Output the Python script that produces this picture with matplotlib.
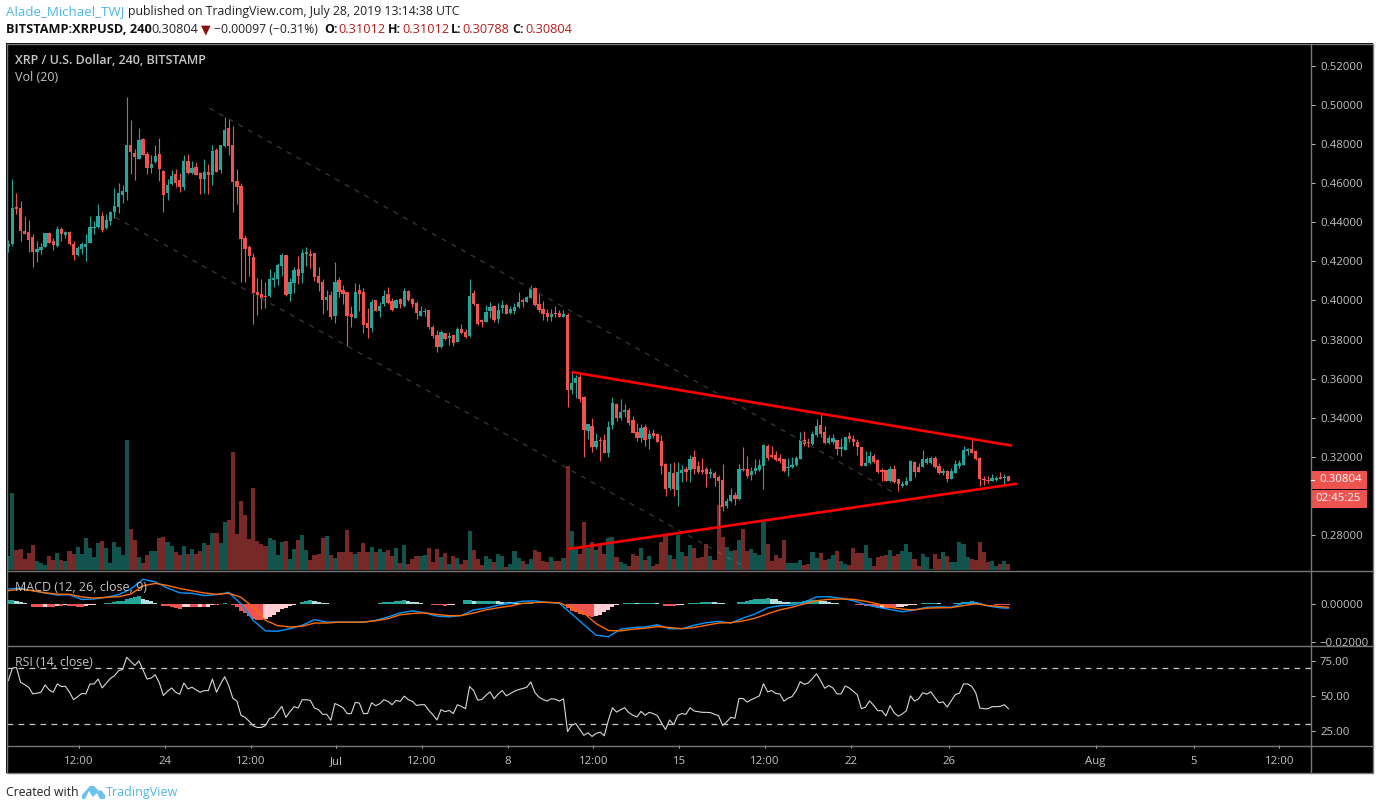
#!/usr/bin/env python3
"""XRP / USD 4h candles with volume, MACD and RSI panes, dark TradingView look."""

import pandas as pd
import matplotlib
matplotlib.use('Agg')
import matplotlib.pyplot as plt
from matplotlib.patches import Rectangle, Polygon

plt.rcParams['font.family'] = ['Open Sans', 'DejaVu Sans']

W, H = 1380, 810

# candles, one 4h bar each, first bar Jun 17 16:00
opens = [
    .4274,.4288,.4477,.4472,.4354,.4349,.4324,.4247,.4257,.4272,
    .4344,.4303,.4278,.4364,.4334,.4349,.4288,.4232,.4262,.4272,
    .4293,.4370,.4375,.4431,.4370,.4405,.4451,.4477,.4538,.4554,
    .4794,.4753,.4722,.4825,.4748,.4676,.4707,.4748,.4661,.4548,
    .4594,.4646,.4615,.4579,.4712,.4651,.4681,.4651,.4620,.4656,
    .4640,.4768,.4666,.4789,.4881,.4794,.4610,.4584,.4318,.4272,
    .4221,.4043,.4033,.4023,.4023,.4105,.4110,.4176,.4232,.4033,
    .4089,.4161,.4140,.4237,.4237,.4242,.4125,.4094,.4002,.4028,
    .3921,.4105,.4053,.4043,.3931,.3910,.4053,.4043,.3885,.3859,
    .4002,.3946,.3982,.4033,.3997,.3961,.4007,.3972,.4048,.4007,
    .3987,.3921,.3941,.3951,.3864,.3824,.3762,.3834,.3808,.3824,
    .3788,.3854,.3839,.3818,.4038,.3982,.3900,.3890,.3946,.3972,
    .3905,.3961,.3977,.3936,.3946,.3967,.4002,.3992,.4013,.4064,
    .3982,.3956,.3936,.3916,.3936,.3936,.3916,.3926,.3543,.3578,
    .3609,.3507,.3333,.3359,.3252,.3287,.3287,.3221,.3364,.3471,
    .3400,.3430,.3441,.3389,.3328,.3297,.3354,.3292,.3323,.3318,
    .3282,.3165,.3042,.3119,.3032,.3119,.3139,.3134,.3200,.3154,
    .3134,.3139,.3114,.3119,.3098,.3083,.2950,.2976,.3006,.2986,
    .3139,.3139,.3108,.3128,.3133,.3154,.3256,.3210,.3210,.3194,
    .3189,.3143,.3149,.3159,.3189,.3286,.3276,.3266,.3312,.3363,
    .3327,.3271,.3276,.3286,.3240,.3235,.3307,.3292,.3276,.3251,
    .3154,.3169,.3205,.3184,.3133,.3133,.3077,.3138,.3087,.3051,
    .3057,.3077,.3174,.3149,.3149,.3169,.3169,.3194,.3154,.3118,
    .3128,.3087,.3118,.3154,.3159,.3230,.3240,.3230,.3194,.3087,
    .3082,.3077,.3082,.3097,.3092,.3101,
]
closes = [
    .4288,.4472,.4467,.4354,.4339,.4308,.4247,.4262,.4272,.4344,
    .4293,.4283,.4364,.4339,.4349,.4288,.4232,.4267,.4288,.4288,
    .4375,.4375,.4431,.4359,.4410,.4451,.4482,.4548,.4559,.4794,
    .4758,.4732,.4819,.4743,.4676,.4697,.4738,.4671,.4538,.4589,
    .4635,.4600,.4579,.4712,.4651,.4676,.4640,.4620,.4656,.4640,
    .4763,.4656,.4794,.4871,.4789,.4605,.4579,.4313,.4262,.4226,
    .4038,.4028,.4007,.4018,.4110,.4115,.4181,.4232,.4028,.4094,
    .4156,.4125,.4242,.4248,.4227,.4120,.4089,.4002,.4018,.3916,
    .4094,.4043,.4033,.3921,.3916,.4043,.4033,.3875,.3859,.3992,
    .3946,.3972,.4023,.3987,.3951,.4002,.3982,.4048,.4002,.3982,
    .3936,.3946,.3946,.3864,.3818,.3762,.3839,.3803,.3818,.3783,
    .3854,.3834,.3813,.4023,.3982,.3880,.3890,.3941,.3967,.3900,
    .3951,.3977,.3931,.3956,.3967,.3992,.3992,.4018,.4064,.3977,
    .3951,.3931,.3916,.3931,.3931,.3916,.3931,.3543,.3578,.3604,
    .3497,.3338,.3369,.3252,.3282,.3282,.3221,.3354,.3476,.3400,
    .3430,.3441,.3374,.3323,.3297,.3349,.3287,.3318,.3308,.3277,
    .3154,.3037,.3124,.3037,.3124,.3134,.3124,.3190,.3139,.3124,
    .3124,.3114,.3124,.3093,.3078,.2945,.2976,.3006,.2986,.3139,
    .3134,.3103,.3128,.3143,.3159,.3261,.3194,.3200,.3184,.3179,
    .3128,.3149,.3159,.3194,.3286,.3266,.3271,.3317,.3358,.3317,
    .3271,.3297,.3297,.3240,.3251,.3302,.3292,.3276,.3251,.3154,
    .3169,.3205,.3174,.3123,.3123,.3077,.3138,.3072,.3062,.3062,
    .3077,.3179,.3123,.3123,.3189,.3189,.3194,.3149,.3118,.3128,
    .3087,.3128,.3164,.3169,.3235,.3240,.3220,.3189,.3087,.3082,
    .3077,.3092,.3092,.3087,.3097,.3080,
]
highs = [
    .4308,.4620,.4548,.4508,.4431,.4410,.4339,.4303,.4293,.4344,
    .4349,.4318,.4380,.4375,.4354,.4354,.4303,.4278,.4298,.4339,
    .4431,.4405,.4492,.4451,.4441,.4456,.4574,.4600,.4589,.5039,
    .4922,.4773,.4881,.4830,.4758,.4743,.4794,.4830,.4666,.4620,
    .4666,.4671,.4651,.4743,.4748,.4712,.4707,.4656,.4722,.4697,
    .4794,.4779,.4794,.4937,.4927,.4891,.4671,.4600,.4334,.4283,
    .4242,.4115,.4110,.4094,.4161,.4145,.4191,.4242,.4232,.4115,
    .4171,.4227,.4263,.4273,.4263,.4242,.4171,.4110,.4053,.4048,
    .4197,.4120,.4079,.4043,.3972,.4089,.4084,.4064,.3961,.4007,
    .4002,.3992,.4053,.4069,.4013,.4007,.4013,.4064,.4053,.4013,
    .3997,.3972,.3961,.3951,.3875,.3849,.3849,.3834,.3839,.3824,
    .3864,.3880,.3854,.4110,.4053,.3987,.3905,.3977,.3992,.3977,
    .3987,.4002,.3982,.3972,.3987,.4043,.4013,.4023,.4079,.4069,
    .4033,.3997,.3956,.3956,.3972,.3951,.3951,.3936,.3640,.3619,
    .3624,.3512,.3369,.3400,.3323,.3303,.3318,.3384,.3507,.3476,
    .3497,.3471,.3451,.3410,.3374,.3369,.3369,.3338,.3343,.3323,
    .3313,.3170,.3170,.3175,.3175,.3160,.3154,.3211,.3236,.3180,
    .3195,.3149,.3144,.3129,.3108,.3165,.2991,.3042,.3022,.3165,
    .3252,.3206,.3149,.3189,.3189,.3266,.3266,.3256,.3230,.3215,
    .3189,.3194,.3200,.3205,.3327,.3332,.3297,.3332,.3394,.3424,
    .3358,.3312,.3317,.3286,.3297,.3302,.3327,.3312,.3292,.3251,
    .3230,.3230,.3215,.3189,.3143,.3133,.3154,.3159,.3087,.3077,
    .3097,.3184,.3179,.3169,.3235,.3200,.3205,.3205,.3169,.3143,
    .3133,.3143,.3184,.3184,.3256,.3246,.3286,.3235,.3200,.3103,
    .3103,.3113,.3103,.3123,.3113,.3101,
]
lows = [
    .4247,.4278,.4441,.4303,.4339,.4247,.4170,.4196,.4237,.4272,
    .4293,.4257,.4272,.4303,.4318,.4283,.4206,.4226,.4237,.4201,
    .4293,.4339,.4370,.4349,.4364,.4385,.4421,.4446,.4497,.4513,
    .4646,.4615,.4722,.4743,.4646,.4651,.4702,.4610,.4451,.4513,
    .4589,.4579,.4554,.4564,.4646,.4646,.4640,.4543,.4548,.4543,
    .4589,.4656,.4651,.4784,.4743,.4451,.4492,.4094,.4094,.4124,
    .3880,.3926,.3956,.3961,.4018,.4069,.4079,.4125,.4023,.3997,
    .4038,.4084,.4089,.4176,.4166,.4099,.4048,.3931,.3951,.3905,
    .3885,.4018,.3982,.3767,.3864,.3910,.3946,.3834,.3808,.3839,
    .3946,.3916,.3972,.3982,.3946,.3961,.3961,.3967,.3997,.3967,
    .3905,.3921,.3921,.3854,.3808,.3737,.3757,.3798,.3772,.3767,
    .3788,.3829,.3808,.3813,.3977,.3875,.3864,.3890,.3910,.3890,
    .3885,.3936,.3931,.3931,.3931,.3961,.3967,.3992,.4013,.3972,
    .3941,.3900,.3895,.3895,.3916,.3916,.3916,.3456,.3522,.3502,
    .3481,.3200,.3292,.3226,.3241,.3180,.3221,.3200,.3343,.3384,
    .3389,.3405,.3364,.3323,.3282,.3277,.3257,.3241,.3297,.3277,
    .3114,.3001,.3032,.3001,.2950,.3073,.3078,.3073,.3114,.3119,
    .3114,.3047,.3093,.3052,.2838,.2925,.2940,.2971,.2955,.2981,
    .3129,.3093,.3082,.3113,.3128,.3036,.3184,.3194,.3179,.3169,
    .3123,.3103,.3143,.3154,.3189,.3256,.3251,.3261,.3302,.3302,
    .3266,.3266,.3266,.3210,.3205,.3235,.3276,.3256,.3210,.3154,
    .3154,.3164,.3169,.3118,.3077,.3077,.3072,.3067,.3026,.3046,
    .3057,.3077,.3097,.3123,.3149,.3164,.3164,.3143,.3113,.3108,
    .3072,.3087,.3118,.3143,.3159,.3210,.3220,.3184,.3051,.3057,
    .3067,.3077,.3077,.3087,.3051,.3079,
]
volumes = [
    14,77,20,21,11,17,25,9,7,5,
    14,10,17,10,9,19,16,23,16,32,
    22,13,27,29,22,7,28,23,15,130,
    41,30,13,7,15,19,19,32,33,28,
    24,18,15,24,16,21,16,19,27,25,
    37,37,27,48,50,118,36,69,55,31,
    82,29,26,24,32,30,15,28,29,11,
    21,30,35,20,10,15,16,32,34,15,
    12,18,18,40,18,16,18,27,18,23,
    18,21,18,20,14,22,7,25,6,11,
    14,14,15,22,8,21,13,17,6,14,
    12,6,10,39,20,11,5,14,11,8,
    16,14,3,6,19,12,9,6,11,20,
    18,9,8,13,9,9,12,104,39,22,
    16,48,22,28,20,25,16,32,33,13,
    8,6,4,16,14,22,10,14,4,6,
    28,34,15,11,35,18,14,25,22,12,
    13,26,14,10,65,33,23,19,20,30,
    41,19,21,17,15,48,26,9,15,12,
    30,7,7,7,10,5,6,18,12,17,
    10,11,15,19,9,6,5,22,17,17,
    25,12,4,13,14,15,20,14,16,19,
    26,18,11,4,16,13,1,16,11,18,
    14,8,8,28,26,13,11,10,28,18,
    8,9,4,6,9,6,
]

# MACD lines, read every third bar
macd_bars = list(range(0, 246, 3)) + [245]
macd_line = [
    .0080,.0085,.0071,.0059,.0048,.0050,.0024,.0027,.0036,.0050,.0080,.0132,.0118,.0085,
    .0060,.0057,.0045,.0050,.0062,.0001,-.0087,-.0143,-.0145,-.0131,-.0113,-.0083,-.0096,-.0096,
    -.0096,-.0096,-.0087,-.0069,-.0047,-.0036,-.0047,-.0064,-.0068,-.0061,-.0031,-.0022,-.0006,.0004,
    .0015,.0017,.0008,.0004,-.0052,-.0110,-.0166,-.0174,-.0134,-.0125,-.0122,-.0110,-.0132,-.0131,
    -.0113,-.0099,-.0092,-.0101,-.0075,-.0052,-.0020,-.0008,-.0006,.0010,.0038,.0039,.0031,.0018,
    -.0003,-.0017,-.0029,-.0041,-.0031,-.0017,-.0015,-.0017,.0004,.0008,-.0010,-.0020,-.0022,
]
signal_line = [
    .0071,.0080,.0071,.0060,.0053,.0052,.0038,.0032,.0036,.0039,.0053,.0097,.0110,.0099,
    .0083,.0071,.0059,.0052,.0057,.0036,-.0017,-.0087,-.0115,-.0122,-.0118,-.0101,-.0101,-.0096,
    -.0097,-.0096,-.0089,-.0078,-.0057,-.0050,-.0047,-.0055,-.0062,-.0061,-.0048,-.0031,-.0020,-.0010,
    .0004,.0008,.0010,.0006,-.0020,-.0048,-.0104,-.0141,-.0143,-.0134,-.0129,-.0120,-.0125,-.0131,
    -.0125,-.0113,-.0101,-.0099,-.0090,-.0075,-.0052,-.0031,-.0017,.0001,.0018,.0025,.0027,.0025,
    .0015,.0001,-.0017,-.0027,-.0031,-.0022,-.0020,-.0019,-.0008,.0001,-.0008,-.0013,-.0017,
]
macd_hist = [
    .0019,.0019,.0018,.0011,.0005,0,-.0014,-.0016,-.0016,-.0014,
    -.0016,-.0016,-.0009,-.0009,-.0007,-.0009,-.0012,-.0016,-.0016,-.0011,
    -.0007,-.0004,0,0,.0004,.0004,.0009,.0014,.0016,.0028,
    .0033,.0035,.0042,.0028,.0021,.0016,.0007,0,-.0011,-.0012,
    -.0016,-.0021,-.0026,-.0018,-.0016,-.0016,-.0016,-.0014,-.0016,-.0014,
    -.0007,-.0007,0,.0004,.0002,-.0007,-.0018,-.0035,-.0049,-.0061,
    -.0081,-.0084,-.0084,-.0079,-.0070,-.0058,-.0044,-.0028,-.0019,-.0011,
    -.0004,0,.0009,.0018,.0023,.0014,.0011,.0007,.0004,0,
    -.0002,0,.0002,.0002,0,.0002,.0002,0,-.0002,0,
    .0002,.0004,.0009,.0012,.0012,.0014,.0016,.0019,.0016,.0012,
    .0009,.0005,.0002,0,-.0004,-.0007,-.0007,-.0009,-.0007,-.0005,
    -.0002,0,.0019,.0019,.0016,.0016,.0016,.0016,.0016,.0016,
    .0014,.0012,.0012,.0011,.0009,.0007,.0005,.0005,.0005,.0002,
    0,-.0002,-.0002,-.0002,-.0002,-.0002,-.0002,-.0021,-.0035,-.0042,
    -.0051,-.0056,-.0063,-.0067,-.0063,-.0056,-.0044,-.0032,-.0018,-.0005,
    0,.0007,.0007,.0007,.0005,.0005,.0007,.0007,.0007,.0004,
    .0002,-.0009,-.0009,-.0009,-.0005,-.0004,0,.0005,.0007,.0007,
    .0009,.0011,.0012,.0011,.0007,.0005,.0002,0,0,.0009,
    .0012,.0016,.0021,.0025,.0026,.0028,.0032,.0028,.0025,.0018,
    .0012,.0009,.0009,.0011,.0012,.0016,.0021,.0021,.0023,.0018,
    .0014,.0011,.0007,.0004,0,0,0,0,-.0005,-.0007,
    -.0011,-.0012,-.0018,-.0021,-.0019,-.0021,-.0021,-.0021,-.0018,-.0014,
    -.0011,-.0007,-.0004,0,.0004,.0004,.0005,.0005,.0004,.0002,
    0,0,.0004,.0005,.0009,.0011,.0014,.0011,.0005,0,
    0,-.0002,-.0004,-.0004,-.0004,-.0004,
]
rsi = [
    61.1,70.1,70.6,59.9,58.2,56.3,51.5,52,52.7,58,
    54.4,52.7,58.7,56.8,57,52.7,47.3,49.6,51.8,51.5,
    58.7,58.7,62.2,55.8,59.2,62.7,64.6,68.2,69.2,77.9,
    74.9,72,75.3,68.7,62.2,63,65.3,59.4,50.4,53.4,
    55.8,52.7,51.3,59.4,55.1,56.3,54.4,52.7,53.9,53.9,
    62.2,52.7,58.7,63.9,57.5,48.4,46.3,36.1,34.6,31.8,
    28.5,27.3,27.3,28.7,33.7,34.6,38.7,42.5,34.6,38.7,
    42.3,41.3,47.3,47.3,46.8,41.3,40.1,36.8,36.8,32.5,
    44.6,43.2,41.5,37.3,37.3,45.4,44.9,37.3,37.3,45.1,
    43,44.4,47.3,46.1,43.7,46.8,46.1,49.9,47.3,46.1,
    43.2,43.7,43.7,39.6,36.5,32.7,40.1,38.7,39.6,37.3,
    43.7,42.5,40.8,56.8,53.9,47,47.5,50.4,53,48,
    51.5,53.9,50.1,51.8,53.4,54.6,55.4,56.3,60.1,52.5,
    49.2,47.5,46.3,48,47.7,46.3,48,24.4,28.9,30.1,
    25.8,21.6,23.5,20.8,23,23.9,21.3,32.5,41.5,38.4,
    40.1,41.5,38,36.1,34.9,38.9,36.1,38.2,37.3,35.8,
    30.6,25.8,32.7,29.2,36.1,37.3,36.8,41.5,39.2,38.7,
    38.2,38.2,38,36.8,35.8,28.7,31.3,34.6,33.9,48.2,
    48.2,45.6,47.3,48.7,50.1,58.9,53,53.9,51.8,51.5,
    46.3,48.4,49.6,53.9,60.3,58.4,59.4,62.7,66,61,
    55.6,57.5,55.8,51.5,51.5,57.2,55.8,53.4,50.8,40.8,
    42,46.5,43.2,39.4,39.4,35.6,43,38,35.4,37,
    39.4,50.1,46.3,48,52.3,51.3,53,48.9,45.1,45.8,
    42,46.5,51.1,52,58.7,58.7,57,52.3,41.3,40.8,
    40.8,42.3,42.3,42.5,43.7,40.8,
]

# drawn lines: bar number / price pairs
triangle_top = ([138.0, 245.9], [.3634, .3258])
triangle_bottom = ([137.1, 247.1], [.2730, .3064])
channel_top = ([49.2, 216.7], [.4983, .3021])
channel_bottom = ([26.1, 180.5], [.4426, .2638])

price_ticks = [.28, .32, .34, .36, .38, .40, .42, .44, .46, .48, .50, .52]
macd_ticks = [0.0, -0.02]
rsi_ticks = [25, 50, 75]
time_ticks = ['2019-06-20 12:00', '2019-06-24', '2019-06-27 12:00', '2019-07-01',
              '2019-07-04 12:00', '2019-07-08', '2019-07-11 12:00', '2019-07-15',
              '2019-07-18 12:00', '2019-07-22', '2019-07-26', '2019-08-01',
              '2019-08-05', '2019-08-08 12:00']
time_labels = ['12:00', '24', '12:00', 'Jul', '12:00', '8', '12:00', '15',
               '12:00', '22', '26', 'Aug', '5', '12:00']

UP = '#26a69a'
DOWN = '#ef5350'
LABEL = '#c4c4c4'
FRAME = '#777777'
FIRST_BAR = pd.Timestamp('2019-06-17 16:00')
TICK_SHIFT = 0.35  # ticks sit a little right of the bars in the original
XLIM = (-0.32, 319.0)
LEFT, RIGHT = 7, 1310.5
AXIS_FONT = 8.2
HEAD_FONT = 8.85


def pane(fig, top, bottom, ylim):
    """Black axes placed by pixel rows."""
    ax = fig.add_axes([LEFT / W, 1 - bottom / H, (RIGHT - LEFT) / W, (bottom - top) / H])
    ax.set_facecolor('black')
    ax.set_xlim(*XLIM)
    ax.set_ylim(*ylim)
    for s in ax.spines.values():
        s.set_visible(False)
    ax.set_xticks([])
    ax.yaxis.tick_right()
    ax.tick_params(axis='y', colors=LABEL, length=3, width=0.7, pad=3.8, labelsize=AXIS_FONT)
    return ax


fig = plt.figure(figsize=(W / 100, H / 100), dpi=100, facecolor='white')
fig.add_artist(Rectangle((6 / W, 1 - 773 / H), 1367 / W, 730 / H, transform=fig.transFigure,
                         facecolor='black', edgecolor='none', zorder=-1))

bars = list(range(len(closes)))
up = [c >= o for o, c in zip(opens, closes)]
colors = [UP if u else DOWN for u in up]

# price pane: candles underneath, volume over them, red trendlines on top
ax_price = pane(fig, 44, 570, (.2623, .5310))
ax_price.vlines(bars, lows, highs, colors=colors, linewidth=0.8)
ax_price.bar(bars, [c - o for o, c in zip(opens, closes)], bottom=opens, width=0.8,
             color=colors, linewidth=0)
ax_price.plot(*channel_top, color='#333333', lw=1, dashes=(3.8, 4.2))
ax_price.plot(*channel_bottom, color='#333333', lw=1, dashes=(3.8, 4.2))
ax_price.set_yticks(price_ticks)
ax_price.set_yticklabels([f'{p:.5f}' for p in price_ticks])

ax_vol = fig.add_axes(ax_price.get_position(), sharex=ax_price, frameon=False)
ax_vol.set_ylim(0, 526)
ax_vol.bar(bars, volumes, width=1.0, color=colors, alpha=0.5, linewidth=0)
ax_vol.axis('off')

ax_lines = fig.add_axes(ax_price.get_position(), sharex=ax_price, frameon=False)
ax_lines.set_ylim(*ax_price.get_ylim())
ax_lines.plot(*triangle_top, color='#ff0000', lw=1.9, solid_capstyle='butt')
ax_lines.plot(*triangle_bottom, color='#ff0000', lw=1.9, solid_capstyle='butt')
ax_lines.axis('off')

# MACD pane
ax_macd = pane(fig, 571, 645, (-.0218, .0176))
hist_colors = []
for i, h in enumerate(macd_hist):
    prev = macd_hist[i - 1] if i else h
    if h >= 0:
        hist_colors.append(UP if h >= prev else '#b2dfdb')
    else:
        hist_colors.append(DOWN if h <= prev else '#ffcdd2')
ax_macd.bar(bars, macd_hist, width=1.0, color=hist_colors, linewidth=0)
ax_macd.plot(macd_bars, macd_line, color='#0496ff', lw=1)
ax_macd.plot(macd_bars, signal_line, color='#ff6d00', lw=1)
ax_macd.set_yticks(macd_ticks)
ax_macd.set_yticklabels(['0.00000', '\u22120.02000'])

# RSI pane
ax_rsi = pane(fig, 646, 745, (14.64, 86.07))
ax_rsi.plot(bars, rsi, color='#d8d8d8', lw=0.8)
for level in (70, 30):
    ax_rsi.axhline(level, color='#c8c8c8', lw=0.9, dashes=(4.6, 4.2))
ax_rsi.set_yticks(rsi_ticks)
ax_rsi.set_yticklabels([f'{v:.2f}' for v in rsi_ticks])
tick_pos = [(pd.Timestamp(t) - FIRST_BAR) / pd.Timedelta(hours=4) + TICK_SHIFT for t in time_ticks]
ax_rsi.set_xticks(tick_pos)
ax_rsi.set_xticklabels(time_labels)
ax_rsi.tick_params(axis='x', colors=LABEL, length=2, width=0.7, pad=6, labelsize=AXIS_FONT)

# overlay in pixels for page text, frame and price tags
ov = fig.add_axes([0, 0, 1, 1], zorder=10)
ov.set_xlim(0, W)
ov.set_ylim(H, 0)
ov.axis('off')

# cut the -0.02 label at the pane edge
ov.add_patch(Rectangle((1311.5, 646), 60, 6, facecolor='black', edgecolor='none'))
ov.plot([6.5, 1373, 1373, 6.5, 6.5], [43.5, 43.5, 772.7, 772.7, 43.5], color=FRAME, lw=1)
for y in (570.5, 645.5, 745.5):
    ov.plot([6.5, 1373], [y, y], color=FRAME, lw=1)
ov.plot([1310.7, 1310.7], [43.5, 772.7], color=FRAME, lw=1)

ov.add_patch(Rectangle((1310.7, 471), 56.3, 18, facecolor='#ef5350', edgecolor='none'))
ov.add_patch(Rectangle((1311, 490), 56, 17.7, facecolor='#ef5350', edgecolor='none'))
ov.plot([1311, 1314], [480, 480], color='white', lw=0.8)
ov.text(1319.5, 480, '0.30804', color='white', fontsize=AXIS_FONT, va='center')
ov.text(1315.5, 498.8, '02:45:25', color='white', fontsize=AXIS_FONT, va='center')

ov.text(15, 60, 'XRP / U.S. Dollar, 240, BITSTAMP', color='#c8c8c8', fontsize=9.0,
        fontweight='semibold', va='center')
ov.text(15, 77.5, 'Vol (20)', color=LABEL, fontsize=9, va='center')
ov.text(15, 587.5, 'MACD (12, 26, close, 9)', color=LABEL, fontsize=9, va='center')
ov.text(15, 662.5, 'RSI (14, close)', color=LABEL, fontsize=8.8, va='center')

ov.text(6, 12, 'Alade_Michael_TWJ', color='#4db6e8', fontsize=9.6, va='center')
ov.text(127.5, 12, 'published on TradingView.com, July 28, 2019 13:14:38 UTC', color='#222222',
        fontsize=HEAD_FONT, va='center')
ov.text(6, 29.5, 'BITSTAMP:XRPUSD, 240', color='#111111', fontsize=9.2, fontweight='bold', va='center')
ov.text(151, 29.5, '0.30804', color='#222222', fontsize=9.2, va='center')
ov.text(200.5, 30, '\u25bc', color='#8b1010', fontsize=9, family='DejaVu Sans', va='center')
ov.text(214, 29.5, '\u22120.00097 (\u22120.31%)', color='#222222', fontsize=HEAD_FONT, va='center')
for x, name, xv, val in [(324, 'O:', 338, '0.31012'), (388, 'H:', 402, '0.31012'),
                         (451, 'L:', 462, '0.30788'), (512, 'C:', 525, '0.30804')]:
    ov.text(x, 29.5, name, color='#111111', fontsize=8.9, fontweight='bold', va='center')
    ov.text(xv, 29.5, val, color='#b71c1c', fontsize=9.2, va='center')

ov.text(6, 792.5, 'Created with', color='#222222', fontsize=HEAD_FONT, va='center')
ov.text(106, 792.5, 'TradingView', color='#4db6e8', fontsize=9.0, va='center')
ov.add_patch(Polygon([(82, 799), (82, 795), (90, 786), (94, 786), (99, 791), (101, 790), (105, 795),
                      (105, 799), (100, 799), (97, 793), (93, 797), (89, 791), (85, 799)],
                     facecolor='#6cc3ec', edgecolor='none'))

fig.savefig('out.png', dpi=100, facecolor='white')
